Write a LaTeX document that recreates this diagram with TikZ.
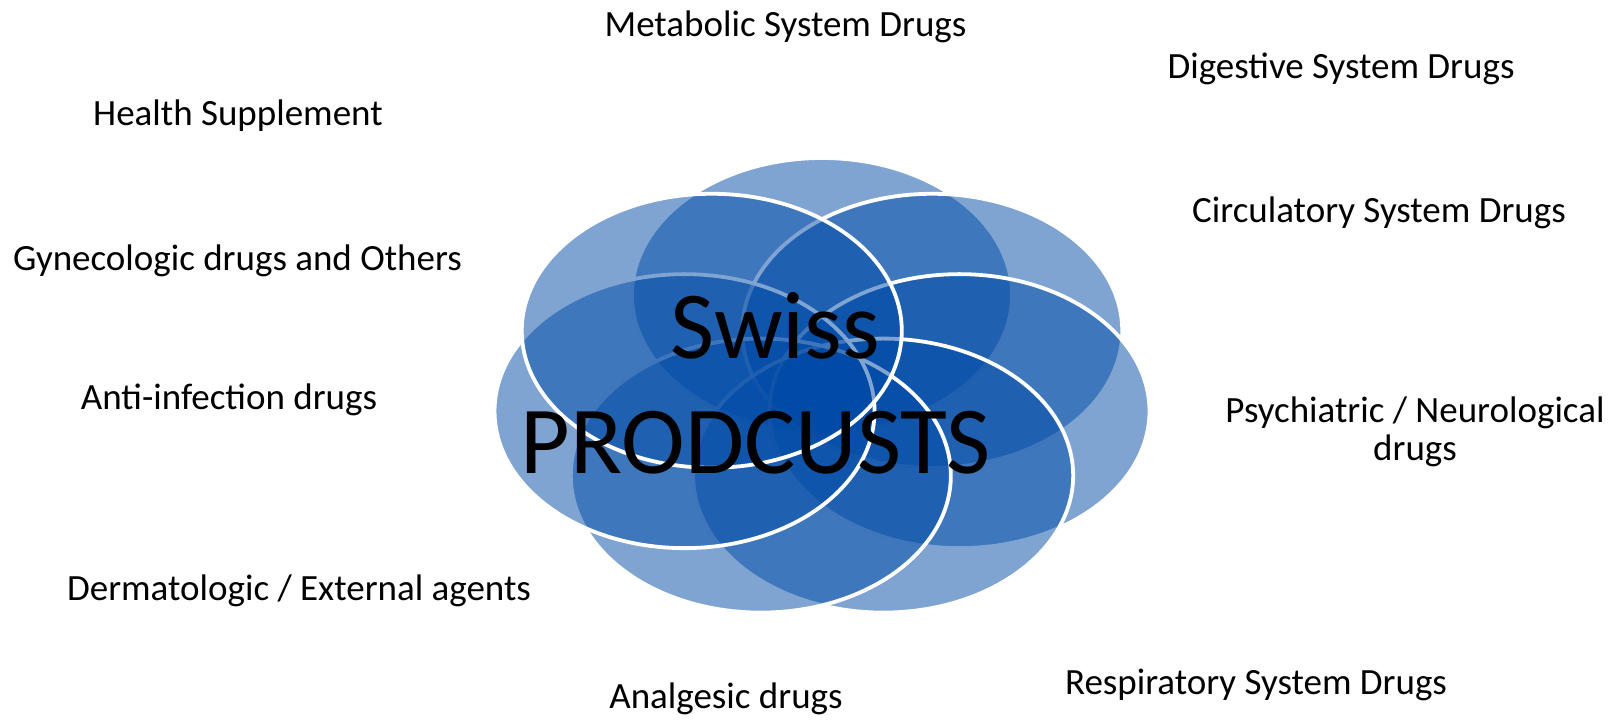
\documentclass[tikz,border=0pt]{standalone}
\usepackage{fontspec}
\setmainfont{Carlito}
\usetikzlibrary{shapes.geometric,calc}
\definecolor{petalblue}{RGB}{0,74,166}
\begin{document}
\begin{tikzpicture}[x=1pt,y=-1pt,
  petal/.style={ellipse, minimum width=380pt, minimum height=274pt, inner sep=0pt,
    fill=petalblue, fill opacity=0.5, draw=white, line width=3.8pt},
  lbl/.style={font=\fontsize{37}{38}\selectfont, anchor=base, inner sep=0pt, text=black},
  big/.style={font=\fontsize{96}{115}\selectfont, anchor=base, inner sep=0pt, text=black}]
\path[use as bounding box] (0,0) rectangle (1614,720);
\coordinate (ctr) at (822,390);
\foreach \n/\ang in {A/90, B/38.571, C/-12.857, D/-64.286, E/-115.714, F/-167.143, G/141.429} {
  \node[petal] (p\n) at ($(ctr)+({141*cos(\ang)},{-95*sin(\ang)})$) {};
}
\node[big] (swiss) at (775.5,358) {Swiss};
\node[big] (prod) at (756,473) {PRODCUSTS};
\node[lbl] (metab) at (785.5,36) {Metabolic System Drugs};
\node[lbl] (dig) at (1341,78) {Digestive System Drugs};
\node[lbl] (health) at (238,125) {Health Supplement};
\node[lbl] (circ) at (1379,222) {Circulatory System Drugs};
\node[lbl] (gyn) at (237.5,270) {Gynecologic drugs and Others};
\node[lbl] (anti) at (229,409) {Anti-infection drugs};
\node[lbl, align=center] (psych) at (1415,460) {Psychiatric / Neurological\\drugs};
\node[lbl] (derm) at (299,600) {Dermatologic / External agents};
\node[lbl] (analg) at (726,708) {Analgesic drugs};
\node[lbl] (resp) at (1256,694) {Respiratory System Drugs};
\end{tikzpicture}
\end{document}
